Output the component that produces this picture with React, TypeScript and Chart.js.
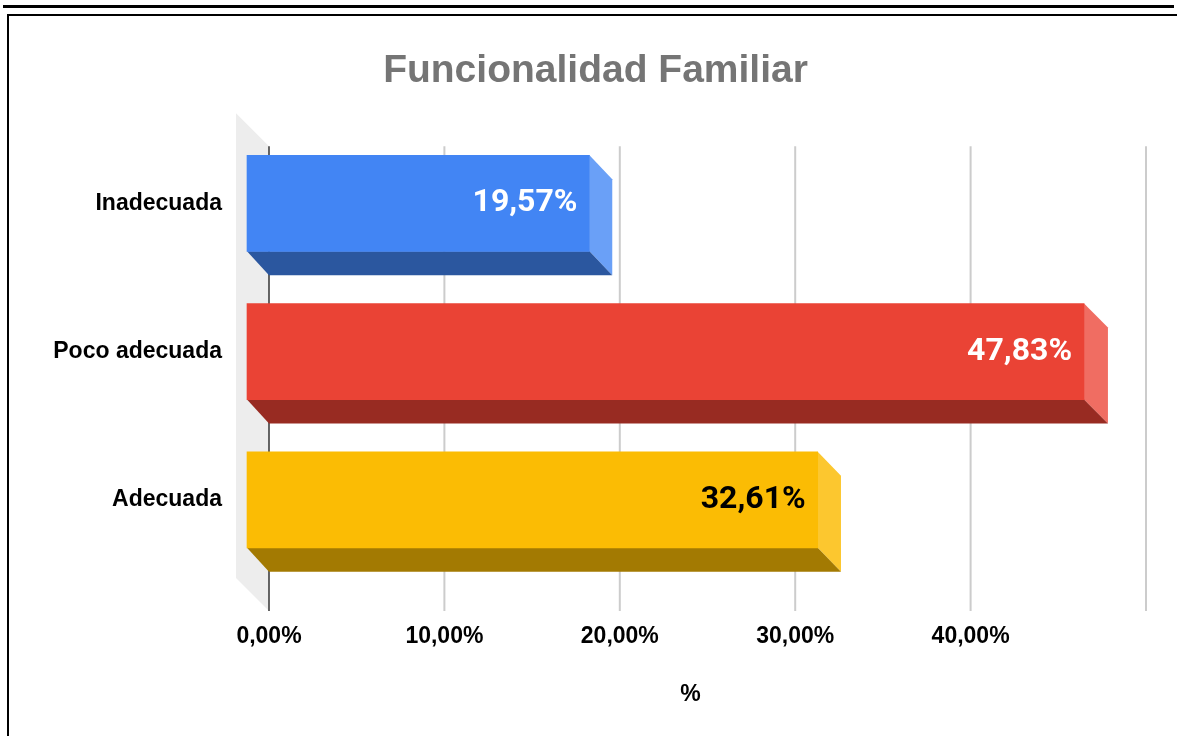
import React, { useEffect, useRef } from "react";
import { Chart, registerables } from "chart.js";

Chart.register(...registerables);

const categories = ["Inadecuada", "Poco adecuada", "Adecuada"];
const values = [19.57, 47.83, 32.61];
const valueLabels = ["19,57%", "47,83%", "32,61%"];
const labelColors = ["#ffffff", "#ffffff", "#000000"];
const frontColors = ["#4285F4", "#EA4335", "#FBBC04"];
const sideColors = ["#6AA0F7", "#F06D62", "#FCC72F"];
const bottomColors = ["#2B579F", "#982B22", "#A37A02"];
const xTickLabels = ["0,00%", "10,00%", "20,00%", "30,00%", "40,00%"];
const xAxisTitle = "%";

const DEPTH_Y = 24;
const WALL = 33;
const GRID_TOP = 17;
const GRID_BOTTOM = 37;
const AXIS_FONT = "'Liberation Sans'";

const poly = (ctx: CanvasRenderingContext2D, pts: number[][], color: string) => {
  ctx.fillStyle = color;
  ctx.beginPath();
  pts.forEach(([x, y], i) => (i ? ctx.lineTo(x, y) : ctx.moveTo(x, y)));
  ctx.closePath();
  ctx.fill();
};

const bars3d = {
  id: "bars3d",
  beforeDatasetsDraw(chart: any) {
    const { ctx, chartArea, scales } = chart;
    const top = chartArea.top + GRID_TOP;
    const bottom = chartArea.bottom + GRID_BOTTOM;
    const x0 = scales.x.getPixelForValue(0);
    ctx.save();
    poly(ctx, [[x0 - WALL, top - WALL], [x0, top], [x0, bottom], [x0 - WALL, bottom - WALL]], "#EDEDED");
    scales.x.ticks.forEach((t: any) => {
      const px = scales.x.getPixelForValue(t.value);
      ctx.strokeStyle = t.value === 0 ? "#333333" : "#CCCCCC";
      ctx.lineWidth = t.value === 0 ? 1.5 : 2;
      ctx.beginPath();
      ctx.moveTo(px, top);
      ctx.lineTo(px, bottom);
      ctx.stroke();
    });
    chart.getDatasetMeta(0).data.forEach((el: any, i: number) => {
      const l = el.base;
      const r = el.x;
      const t = el.y - el.height / 2;
      const b = el.y + el.height / 2;
      const backR = scales.x.getPixelForValue(values[i]);
      poly(ctx, [[r, t], [backR, t + DEPTH_Y], [backR, b + DEPTH_Y], [r, b]], sideColors[i]);
      poly(ctx, [[l, b], [r, b], [backR, b + DEPTH_Y], [x0, b + DEPTH_Y]], bottomColors[i]);
    });
    ctx.restore();
  },
  afterDatasetsDraw(chart: any) {
    const { ctx, scales } = chart;
    ctx.save();
    ctx.font = "700 32px Roboto";
    ctx.textAlign = "right";
    ctx.textBaseline = "middle";
    chart.getDatasetMeta(0).data.forEach((el: any, i: number) => {
      ctx.fillStyle = labelColors[i];
      ctx.fillText(valueLabels[i], el.x - 12, el.y);
    });
    // Axis title sits left of the plot centre, so it is placed here rather than by the scale.
    ctx.font = `700 23px ${AXIS_FONT}`;
    ctx.textAlign = "center";
    ctx.fillStyle = "#000000";
    ctx.fillText(xAxisTitle, (scales.x.left + scales.x.right) / 2 - 17, 695);
    ctx.restore();
  },
};

export default function App() {
  const ref = useRef<HTMLCanvasElement>(null);
  useEffect(() => {
    const chart = new Chart(ref.current!, {
      type: "bar",
      data: {
        labels: categories,
        datasets: [
          {
            data: values,
            backgroundColor: frontColors,
            barThickness: 96,
            base: 0,
            clip: false,
            xAxisID: "xFront",
            yAxisID: "y",
          } as any,
        ],
      },
      plugins: [bars3d],
      options: {
        indexAxis: "y",
        animation: false,
        responsive: false,
        layout: { padding: { left: 45, right: 31, top: 0, bottom: 0 } },
        plugins: {
          legend: { display: false },
          tooltip: { enabled: false },
          title: {
            display: true,
            text: "Funcionalidad Familiar",
            color: "#757575",
            font: { family: AXIS_FONT, size: 39, weight: "bold" },
            padding: { top: 48, bottom: 34.4 },
          },
        },
        scales: {
          x: {
            type: "linear",
            position: "bottom",
            min: 0,
            max: 50,
            grid: { display: false },
            border: { display: false },
            ticks: {
              stepSize: 10,
              autoSkip: false,
              maxRotation: 0,
              padding: 41,
              color: "#000000",
              font: { family: AXIS_FONT, size: 23, weight: "bold" },
              callback: (_v: any, i: number) => xTickLabels[i] ?? "",
            },
            afterFit: (s: any) => {
              s.height = 162;
              s.paddingLeft = 0;
              s.paddingRight = 0;
            },
          },
          xFront: {
            type: "linear",
            axis: "x",
            display: false,
            min: 1.257,
            max: 51.37,
          },
          y: {
            type: "category",
            grid: { display: false },
            border: { display: false },
            ticks: {
              padding: 39,
              color: "#000000",
              font: { family: AXIS_FONT, size: 23, weight: "bold" },
            },
            afterFit: (s: any) => {
              s.width = 224;
            },
          },
        },
      } as any,
    });
    return () => chart.destroy();
  }, []);

  return (
    <div style={{ position: "fixed", left: 0, top: 0, width: 1177, height: 736, overflow: "hidden", background: "#fff" }}>
      <canvas ref={ref} width={1177} height={736} style={{ position: "absolute", left: 0, top: 0 }} />
      <div style={{ position: "absolute", left: 3, top: 5, width: 1171, height: 3, background: "#000" }} />
      <div style={{ position: "absolute", left: 7, top: 14, width: 1170, height: 722, borderTop: "2px solid #000", borderLeft: "2px solid #000", boxSizing: "border-box" }} />
    </div>
  );
}
